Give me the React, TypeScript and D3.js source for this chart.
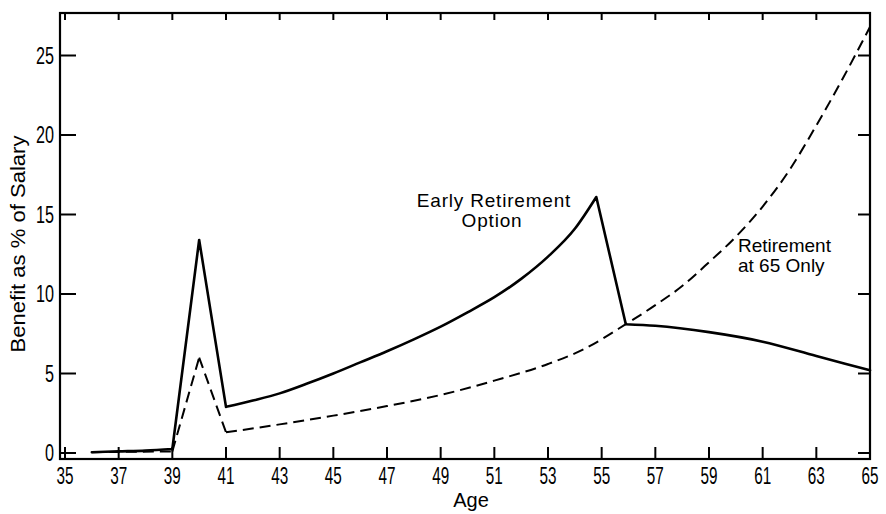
import React from 'react';
import * as d3 from 'd3';

// values
const earlyAges = [36, 37, 38, 39, 40, 41, 42, 43, 44, 45, 46, 47, 48, 49, 50, 51, 52, 53, 54, 54.8, 55.9, 57, 59, 61, 63, 65];
const earlyBenefit = [0.05, 0.1, 0.15, 0.25, 13.4, 2.9, 3.3, 3.75, 4.35, 5.0, 5.7, 6.4, 7.15, 7.95, 8.85, 9.8, 10.95, 12.35, 14.1, 16.1, 8.1, 8.0, 7.6, 7.0, 6.1, 5.2];
// ages where the early-retirement line has a sharp corner
const earlyCorners = [39, 40, 41, 54.8, 55.9];

const at65Ages = [36, 39, 40, 41, 43, 45, 47, 49, 51, 53, 54.3, 55.9, 57, 58, 59, 60, 61, 62, 63, 64, 65];
const at65Benefit = [0.05, 0.1, 6.0, 1.3, 1.8, 2.35, 2.95, 3.65, 4.55, 5.6, 6.5, 8.1, 9.3, 10.5, 12.0, 13.6, 15.5, 17.8, 20.6, 23.6, 26.8];
const at65Corners = [39, 40, 41];

const ageTicks = [35, 37, 39, 41, 43, 45, 47, 49, 51, 53, 55, 57, 59, 61, 63, 65];
const benefitTicks = [0, 5, 10, 15, 20, 25];

const W = 886;
const H = 514;
const left = 60, right = 870, top = 13, bottom = 459;

const font = '"Liberation Sans", Arial, sans-serif';

type Pt = [number, number];

// split at corners, smooth each piece, join into one path
function piecewise(pts: Pt[], corners: number[], gen: d3.Line<Pt>) {
  const pieces: Pt[][] = [];
  let cur: Pt[] = [];
  pts.forEach(p => {
    cur.push(p);
    if (corners.includes(p[0])) {
      pieces.push(cur);
      cur = [p];
    }
  });
  if (cur.length > 1) pieces.push(cur);
  return pieces.map(s => gen(s) || '').join('');
}

export default function App() {
  const x = d3.scaleLinear().domain([35, 65]).range([65, 870]);
  const y = d3.scaleLinear().domain([0, 25]).range([453, 55.5]);

  const early = earlyAges.map((a, i) => [a, earlyBenefit[i]] as Pt);
  const only65 = at65Ages.map((a, i) => [a, at65Benefit[i]] as Pt);

  const line = d3.line<Pt>()
    .x(d => x(d[0]))
    .y(d => y(d[1]))
    .curve(d3.curveMonotoneX);

  return (
    <svg width={W} height={H} style={{ position: 'absolute', left: 0, top: 0, background: '#fff' }}>
      <rect x={left} y={top} width={right - left} height={bottom - top} fill="none" stroke="#000" strokeWidth={2.2} />

      {ageTicks.map(t => (
        <g key={'x' + t}>
          <line x1={x(t)} x2={x(t)} y1={bottom} y2={bottom - 12} stroke="#000" strokeWidth={2} />
          <line x1={x(t)} x2={x(t)} y1={top} y2={top + 7} stroke="#000" strokeWidth={2} />
          <text x={x(t)} y={bottom + 25} textAnchor="middle" fontFamily={font} fontSize={23}
            textLength={17} lengthAdjust="spacingAndGlyphs">{t}</text>
        </g>
      ))}

      {benefitTicks.map(t => (
        <g key={'y' + t}>
          <line x1={left} x2={left + 16} y1={y(t)} y2={y(t)} stroke="#000" strokeWidth={2} />
          <line x1={right} x2={right - 12} y1={y(t)} y2={y(t)} stroke="#000" strokeWidth={2} />
          <text x={left - 6} y={y(t) + 8} textAnchor="end" fontFamily={font} fontSize={23}
            textLength={t < 10 ? 9 : 18} lengthAdjust="spacingAndGlyphs">{t}</text>
        </g>
      ))}

      <path d={piecewise(only65, at65Corners, line)} fill="none" stroke="#000" strokeWidth={2} strokeDasharray="11,6" />
      <path d={piecewise(early, earlyCorners, line)} fill="none" stroke="#000" strokeWidth={2.6} strokeLinecap="round" />

      <text x={494} y={207} textAnchor="middle" fontFamily={font} fontSize={19} letterSpacing={0.8}>Early Retirement</text>
      <text x={492} y={227} textAnchor="middle" fontFamily={font} fontSize={19} letterSpacing={0.8}>Option</text>

      <text x={738} y={252} fontFamily={font} fontSize={19}>Retirement</text>
      <text x={738} y={272} fontFamily={font} fontSize={19}>at 65 Only</text>

      <text x={471} y={507} textAnchor="middle" fontFamily={font} fontSize={20}>Age</text>
      <text transform="translate(25,244) rotate(-90)" textAnchor="middle" fontFamily={font} fontSize={21}
        textLength={217} lengthAdjust="spacingAndGlyphs">Benefit as % of Salary</text>
    </svg>
  );
}
